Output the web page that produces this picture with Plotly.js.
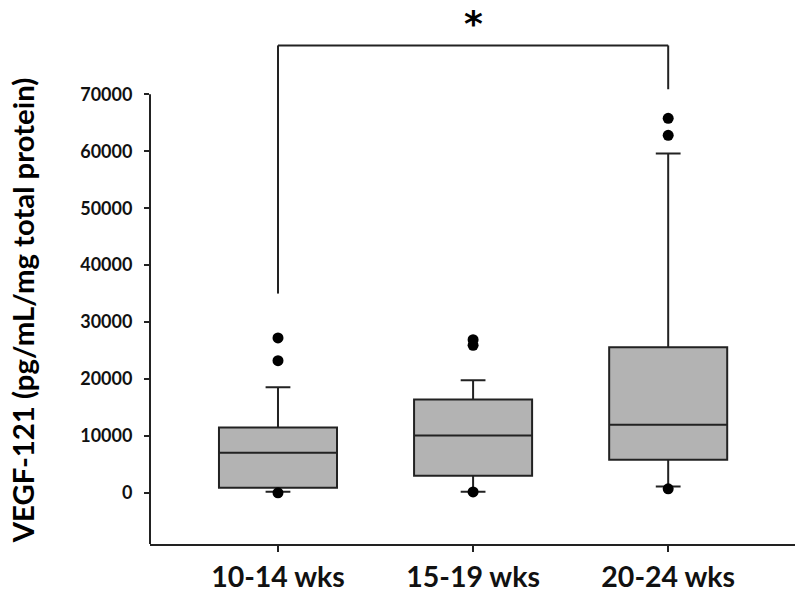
<!DOCTYPE html>
<html>
<head>
<meta charset="utf-8">
<script src="https://cdn.plot.ly/plotly-3.0.1.min.js"></script>
<style>html,body{margin:0;padding:0;background:#fff;}#chart{width:800px;height:595px;}</style>
</head>
<body>
<div id="chart"></div>
<script>
// ---- data ----
const categories = ['10-14 wks', '15-19 wks', '20-24 wks'];
const q1Vals = [880, 2990, 5800];
const medianVals = [7030, 10070, 11950];
const q3Vals = [11480, 16400, 25590];
const lowerFenceVals = [200, 200, 1100];
const upperFenceVals = [18560, 19790, 59630];
const outlierCats = ['10-14 wks', '10-14 wks', '10-14 wks', '15-19 wks', '15-19 wks', '15-19 wks', '20-24 wks', '20-24 wks', '20-24 wks'];
const outlierVals = [27200, 23200, 0, 26900, 25900, 150, 65800, 62800, 700];
const yTickVals = [0, 10000, 20000, 30000, 40000, 50000, 60000, 70000];
const yTickText = ['0', '10000', '20000', '30000', '40000', '50000', '60000', '70000'];
const yAxisTitle = 'VEGF-121 (pg/mL/mg total protein)';
const sigPair = ['10-14 wks', '20-24 wks'];
const sigLeftEnd = 35000, sigRightEnd = 70900, sigTop = 78600;
const sigLabel = '*';

const yRange = [-9000, 85000];
const FONT = 'Lato, "Open Sans", sans-serif';
const LINE = '#222222';

const boxTrace = {
  type: 'box',
  x: categories,
  q1: q1Vals, median: medianVals, q3: q3Vals,
  lowerfence: lowerFenceVals, upperfence: upperFenceVals,
  boxpoints: false,
  width: 0.605,
  whiskerwidth: 0.21,
  fillcolor: '#b3b3b3',
  line: {color: LINE, width: 2},
  hoverinfo: 'skip',
  showlegend: false
};
const outlierTrace = {
  type: 'scatter', mode: 'markers',
  x: outlierCats, y: outlierVals,
  marker: {color: '#000', size: 11},
  showlegend: false, cliponaxis: false
};

const axisTopPaper = (Math.max(...yTickVals) - yRange[0]) / (yRange[1] - yRange[0]);
const midIdx = (categories.indexOf(sigPair[0]) + categories.indexOf(sigPair[1])) / 2;

const layout = {
  width: 800, height: 595,
  margin: {l: 150, r: 5, t: 9, b: 51},
  paper_bgcolor: '#fff', plot_bgcolor: '#fff',
  showlegend: false,
  xaxis: {
    type: 'category',
    range: [-0.656, 2.65],
    showgrid: false, zeroline: false,
    showline: true, linecolor: LINE, linewidth: 2,
    ticks: 'outside', ticklen: 6, tickwidth: 2, tickcolor: LINE,
    ticklabelstandoff: 1,
    tickfont: {family: FONT, size: 28.5, color: '#111', weight: 'bold'}
  },
  yaxis: {
    range: yRange,
    showgrid: false, zeroline: false, showline: false,
    tickvals: yTickVals, ticktext: yTickText,
    ticks: 'outside', ticklen: 5, tickwidth: 2, tickcolor: LINE,
    ticklabelstandoff: 8,
    tickfont: {family: FONT, size: 18, color: '#111', weight: 'bold'}
  },
  shapes: [
    {type: 'line', xref: 'paper', yref: 'paper', x0: 0, x1: 0, y0: 0, y1: axisTopPaper,
     line: {color: LINE, width: 2}},
    {type: 'line', xref: 'x', yref: 'y', x0: sigPair[0], x1: sigPair[0], y0: sigLeftEnd, y1: sigTop,
     line: {color: LINE, width: 2}},
    {type: 'line', xref: 'x', yref: 'y', x0: sigPair[0], x1: sigPair[1], y0: sigTop, y1: sigTop,
     line: {color: LINE, width: 2}},
    {type: 'line', xref: 'x', yref: 'y', x0: sigPair[1], x1: sigPair[1], y0: sigRightEnd, y1: sigTop,
     line: {color: LINE, width: 2}}
  ],
  annotations: [
    {text: '<b>' + sigLabel + '</b>', xref: 'x', yref: 'y', x: midIdx, y: sigTop,
     yanchor: 'bottom', showarrow: false, yshift: -1,
     font: {family: '"DejaVu Sans", sans-serif', size: 36, color: '#000'}},
    {text: '<b>' + yAxisTitle + '</b>', xref: 'paper', yref: 'paper', x: 0, y: 0.435,
     xanchor: 'center', yanchor: 'middle', xshift: -128, textangle: -90, showarrow: false,
     font: {family: FONT, size: 29.3, color: '#000'}}
  ]
};

Plotly.newPlot('chart', [boxTrace, outlierTrace], layout, {staticPlot: true, displayModeBar: false});
</script>
</body>
</html>
